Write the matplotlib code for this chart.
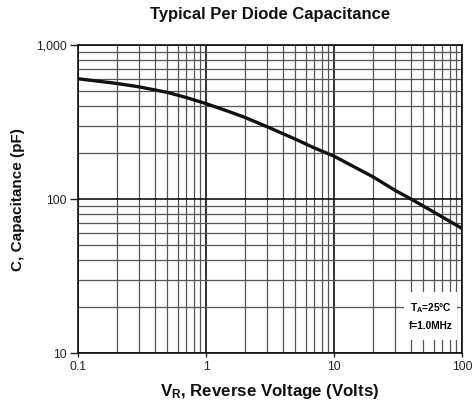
import numpy as np
import matplotlib.pyplot as plt
from matplotlib.patches import Rectangle
from matplotlib.ticker import FixedLocator, FixedFormatter, LogLocator, NullFormatter

# =========================
# DATA
# =========================
voltage = [0.1, 0.2, 0.3, 0.5, 0.7, 1, 1.5, 2, 3, 5, 7, 10, 20, 30, 40, 50, 100]
capacitance = [605, 564, 536, 493, 457, 417, 371, 340, 295, 245, 215, 190,
               140, 114, 100, 90, 64.5]

x_ticks = [0.1, 1, 10, 100]
x_tick_labels = ["0.1", "1", "10", "100"]
y_ticks = [10, 100, 1000]
y_tick_labels = ["10", "100", "1,000"]

# =========================
# STYLE
# =========================
plt.rcParams['font.family'] = ['Liberation Sans', 'DejaVu Sans']
plt.rcParams['mathtext.fontset'] = 'custom'
plt.rcParams['mathtext.rm'] = 'Liberation Sans:bold'
plt.rcParams['mathtext.it'] = 'Liberation Sans:bold'
plt.rcParams['mathtext.default'] = 'rm'

fig = plt.figure(figsize=(4.74, 4.03), dpi=100)
ax = fig.add_axes([0.1646, 0.124, 0.8101, 0.764])

ax.plot(voltage, capacitance, color='#111111', linewidth=2.4,
        solid_capstyle='butt', solid_joinstyle='round', zorder=3)

ax.set_xscale('log')
ax.set_yscale('log')
ax.set_xlim(0.1, 100)
ax.set_ylim(10, 1000)

# ticks and grid
ax.xaxis.set_major_locator(FixedLocator(x_ticks))
ax.xaxis.set_major_formatter(FixedFormatter(x_tick_labels))
ax.yaxis.set_major_locator(FixedLocator(y_ticks))
ax.yaxis.set_major_formatter(FixedFormatter(y_tick_labels))
ax.xaxis.set_minor_locator(LogLocator(base=10, subs=np.arange(2, 10)))
ax.yaxis.set_minor_locator(LogLocator(base=10, subs=np.arange(2, 10)))
ax.xaxis.set_minor_formatter(NullFormatter())
ax.yaxis.set_minor_formatter(NullFormatter())

ax.grid(which='major', color='#111111', linewidth=1.2)
ax.grid(which='minor', color='#555555', linewidth=0.9)

ax.tick_params(which='major', axis='y', length=6, width=1, direction='out',
               labelsize=8.7, colors='#222222', pad=2)
ax.tick_params(which='major', axis='x', length=3, width=1, direction='out',
               labelsize=8.7, colors='#222222', pad=3)
ax.tick_params(which='minor', length=0)

for s in ax.spines.values():
    s.set_color('#111111')
    s.set_linewidth(1.2)

# conditions box
ax.add_patch(Rectangle((0.849, 0.042), 0.138, 0.156, transform=ax.transAxes,
                       facecolor='white', edgecolor='none', zorder=4))
ax.text(0.918, 0.145, r"T$_\mathrm{A}$=25°C", transform=ax.transAxes,
        ha='center', va='center', fontsize=7.3, fontweight='bold', zorder=5)
ax.text(0.918, 0.088, "f=1.0MHz", transform=ax.transAxes,
        ha='center', va='center', fontsize=7.3, fontweight='bold', zorder=5)

# labels
fig.text(0.57, 0.963, "Typical Per Diode Capacitance", ha='center',
         va='center', fontsize=12, fontweight='bold', color='#111111')
ax.set_xlabel(r"V$_\mathrm{R}$, Reverse Voltage (Volts)", fontsize=12.2,
              fontweight='bold', color='#111111', labelpad=6)
ax.set_ylabel("C, Capacitance (pF)", fontsize=11, fontweight='bold',
              color='#111111', labelpad=8)

fig.savefig("out.png", dpi=100)
